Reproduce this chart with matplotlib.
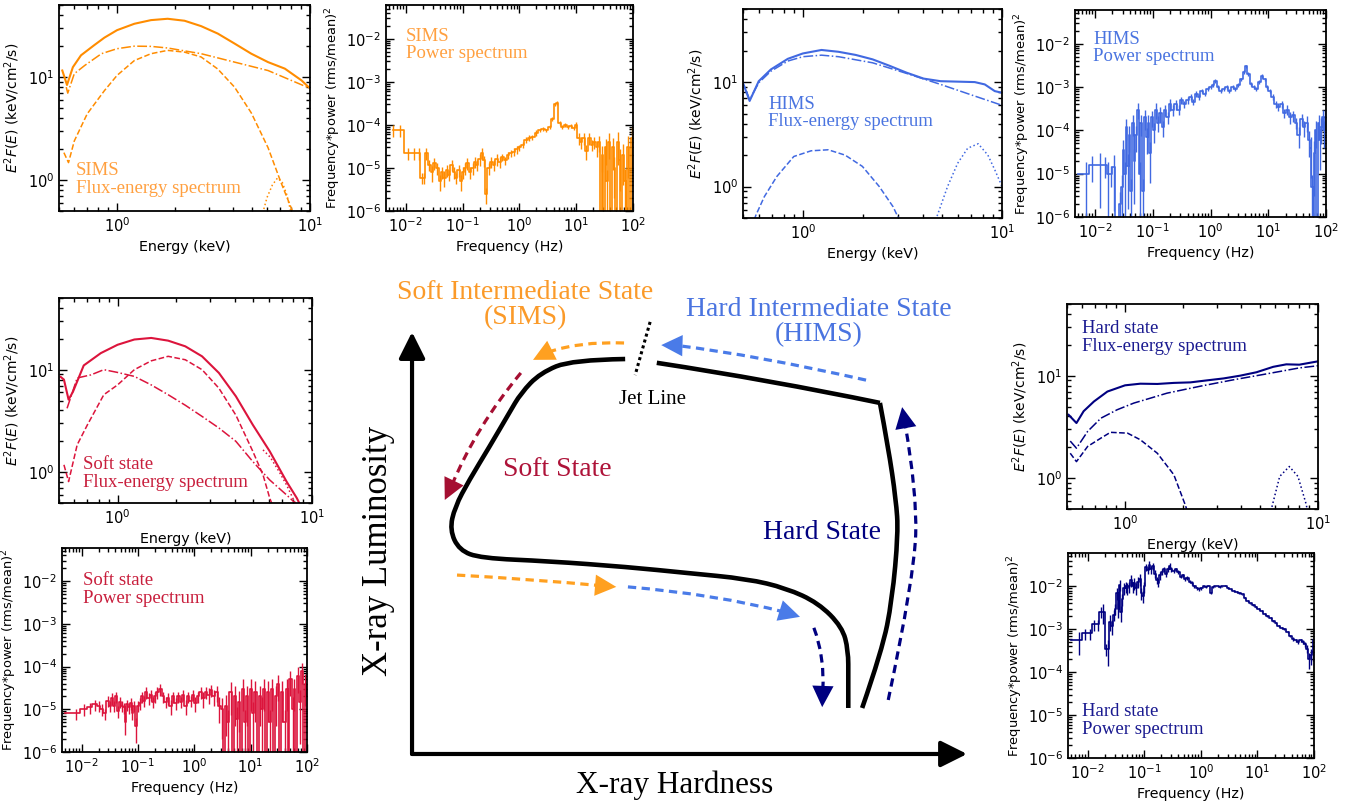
import matplotlib.pyplot as plt
import numpy as np
from matplotlib.path import Path
from matplotlib.patches import PathPatch
from matplotlib.ticker import NullFormatter

# ---- flux-energy spectra (E in keV, E^2 F(E)) ----
sims_total = [(0.52, 11.6), (0.55, 8.4), (0.59, 12.5), (0.65, 16.3), (0.76, 20.4), (0.86, 24.2), (1.0, 28.6),
              (1.23, 33.0), (1.5, 35.8), (1.83, 36.9), (2.24, 35.3), (2.73, 31.3), (3.33, 26.5), (4.07, 21.2),
              (4.97, 16.9), (6.07, 14.0), (7.42, 12.1), (9.06, 9.3), (10.0, 7.8)]
sims_cont = [(0.545, 8.0), (0.555, 7.0), (0.6, 10.8), (0.68, 13.0), (0.83, 16.9), (1.0, 18.9), (1.23, 20.0),
             (1.5, 19.9), (1.83, 19.2), (2.73, 16.9), (4.07, 14.0), (6.07, 11.6), (10.0, 7.8)]
sims_disk = [(0.53, 1.85), (0.56, 1.48), (0.6, 2.4), (0.7, 4.4), (0.86, 7.4), (1.0, 10.4), (1.23, 14.5),
             (1.5, 16.9), (1.83, 18.2), (2.24, 17.5), (2.73, 15.7), (3.33, 12.0), (4.07, 8.0), (4.97, 4.5),
             (6.07, 2.07), (7.1, 0.94), (8.0, 0.54), (8.3, 0.45)]
sims_line = [(5.7, 0.48), (6.0, 0.68), (6.4, 0.9), (6.8, 1.05), (7.2, 0.95), (7.6, 0.72), (8.0, 0.48)]

hims_total = [(0.5, 9.85), (0.54, 6.6), (0.6, 10.2), (0.69, 13.2), (0.84, 16.7), (1.0, 18.8), (1.24, 20.3),
              (1.51, 19.5), (1.84, 18.2), (2.24, 16.5), (2.73, 14.3), (3.32, 12.3), (4.04, 10.8), (4.92, 10.2),
              (5.99, 10.1), (7.3, 10.0), (8.2, 9.5), (9.2, 8.2), (10.0, 7.9)]
hims_cont = [(0.52, 8.2), (0.54, 6.8), (0.6, 9.85), (0.69, 12.7), (0.84, 15.9), (1.0, 17.5), (1.24, 18.1),
             (1.51, 17.5), (2.24, 15.3), (3.32, 12.1), (4.92, 9.5), (7.3, 7.35), (10.0, 6.0)]
hims_disk = [(0.57, 0.48), (0.58, 0.53), (0.64, 0.8), (0.74, 1.25), (0.9, 1.94), (1.1, 2.2), (1.34, 2.25),
             (1.63, 2.0), (1.99, 1.56), (2.42, 1.0), (2.84, 0.64), (3.05, 0.48)]
hims_line = [(4.65, 0.48), (5.33, 1.0), (5.99, 1.67), (6.73, 2.33), (7.6, 2.57), (8.5, 2.0), (9.2, 1.45),
             (9.8, 1.1), (10.0, 1.0)]

soft_total = [(0.51, 8.5), (0.53, 8.0), (0.56, 5.1), (0.59, 6.1), (0.67, 11.0), (0.82, 14.5), (1.0, 17.5),
              (1.22, 19.7), (1.49, 20.4), (1.82, 19.2), (2.23, 16.9), (2.72, 13.5), (3.32, 9.3), (4.06, 5.5),
              (4.96, 2.9), (6.06, 1.6), (7.4, 0.81), (8.35, 0.56), (8.6, 0.5)]
soft_cont = [(0.55, 4.2), (0.62, 8.3), (0.73, 8.9), (0.85, 10.0), (1.0, 9.4), (1.22, 8.6), (1.49, 7.1),
             (1.82, 5.7), (2.23, 4.5), (2.72, 3.5), (3.32, 2.7), (4.06, 2.0), (4.96, 1.27), (6.06, 0.84),
             (7.4, 0.6), (8.2, 0.5)]
soft_disk = [(0.53, 1.18), (0.56, 0.81), (0.62, 1.85), (0.7, 2.9), (0.85, 5.7), (1.0, 7.1), (1.22, 10.0),
             (1.49, 12.2), (1.82, 13.5), (2.23, 12.5), (2.72, 10.0), (3.32, 6.6), (4.06, 3.6), (4.96, 1.6),
             (5.6, 0.94), (6.06, 0.56), (6.2, 0.5)]
soft_line = [(5.6, 1.65), (6.1, 1.4), (6.8, 1.0), (7.4, 0.75), (8.0, 0.55), (8.2, 0.5)]

hard_total = [(0.51, 4.15), (0.56, 3.45), (0.61, 4.5), (0.69, 5.6), (0.81, 7.0), (1.0, 8.05), (1.2, 8.35),
              (1.47, 8.3), (1.79, 8.5), (2.18, 8.6), (2.66, 9.0), (3.24, 9.4), (3.95, 10.0), (4.8, 10.8),
              (5.86, 12.2), (6.85, 12.9), (8.0, 12.8), (10.0, 13.8)]
hard_cont = [(0.52, 2.3), (0.56, 1.96), (0.64, 2.86), (0.75, 3.85), (0.91, 4.65), (1.11, 5.4), (1.36, 6.05),
             (1.65, 6.75), (2.46, 7.9), (3.63, 9.1), (5.4, 10.4), (8.0, 11.9), (10.0, 12.5)]
hard_disk = [(0.52, 1.75), (0.56, 1.45), (0.64, 2.04), (0.75, 2.46), (0.84, 2.8), (1.03, 2.75), (1.2, 2.37),
             (1.47, 1.75), (1.79, 1.08), (2.05, 0.55), (2.1, 0.48)]
hard_line = [(5.7, 0.48), (6.33, 1.04), (7.1, 1.3), (7.87, 1.04), (8.7, 0.55), (8.8, 0.48)]

# ---- power spectra: (frequency Hz, freq*power, relative error) ----
sims_pds = [(0.006, 7.5e-5, .3), (0.008, 7.5e-5, .3), (0.011, 2.2e-5, .3), (0.014, 2.2e-5, .3), (0.017, 2.2e-5, .3),
            (0.019, 6e-6, .3), (0.021, 6e-6, .3), (0.023, 2.2e-5, .3), (0.026, 1.2e-5, .3), (0.029, 8e-6, .4),
            (0.032, 1.3e-5, .3), (0.036, 1e-5, .3), (0.04, 5e-6, .4), (0.044, 8e-6, .3), (0.048, 6e-6, .4),
            (0.053, 9e-6, .3), (0.058, 7e-6, .3), (0.064, 1.2e-5, .3), (0.07, 8e-6, .3), (0.077, 6e-6, .3),
            (0.085, 9e-6, .3), (0.093, 5e-6, .4), (0.1, 8e-6, .3), (0.11, 1e-5, .3), (0.12, 1.3e-5, .3),
            (0.135, 8e-6, .3), (0.15, 1e-5, .3), (0.165, 1.4e-5, .3), (0.18, 1.2e-5, .3), (0.2, 1.6e-5, .3),
            (0.22, 2.2e-5, .3), (0.24, 1.5e-5, .3), (0.26, 2.5e-6, .4), (0.29, 1e-5, .3), (0.32, 1.4e-5, .3),
            (0.36, 1.2e-5, .3), (0.4, 1.6e-5, .3), (0.45, 1.4e-5, .3), (0.5, 1.8e-5, .2), (0.56, 1.5e-5, .2),
            (0.63, 2e-5, .2), (0.7, 2.2e-5, .2), (0.8, 2.4e-5, .2), (0.9, 2.7e-5, .2), (1.0, 3e-5, .15),
            (1.15, 3.5e-5, .15), (1.3, 4.5e-5, .15), (1.5, 5e-5, .15), (1.7, 5.2e-5, .15), (2.0, 6.5e-5, .15),
            (2.3, 7.5e-5, .1), (2.6, 8e-5, .1), (3.0, 7.5e-5, .1), (3.4, 9e-5, .1), (3.8, 1.4e-4, .1),
            (4.2, 3e-4, .1), (4.6, 3.2e-4, .1), (5.1, 1.1e-4, .1), (5.7, 9e-5, .1), (6.4, 1e-4, .1),
            (7.2, 9e-5, .1), (8.0, 9.5e-5, .1), (9.0, 8.5e-5, .1), (10, 1e-4, .15), (11, 5e-5, .3),
            (12, 4e-5, .3), (13.5, 5e-5, .3), (15, 2.5e-5, .4), (17, 5e-5, .3), (19, 3.5e-5, .3),
            (21, 4e-5, .3), (23, 3e-5, .4), (25, 4e-5, .4), (27, 3e-7, .5), (29, 2e-5, .6), (31, 3e-7, .5),
            (33, 3e-5, .6), (35, 5e-6, .8), (38, 4e-5, .6), (41, 3e-7, .5), (44, 3e-5, .7), (47, 1e-5, .8),
            (50, 3e-7, .5), (54, 4e-5, .7), (58, 1.5e-5, .8), (62, 3e-7, .5), (67, 2e-5, .8), (72, 5e-6, .9),
            (77, 3e-7, .5), (83, 3e-5, .8), (89, 3e-7, .5), (95, 5e-5, .8)]

hims_pds = [(0.005, 1e-5, .0), (0.007, 1e-5, .9), (0.009, 1.6e-5, .6), (0.012, 1.6e-5, .9), (0.015, 1.6e-5, .5),
            (0.017, 1e-5, .9), (0.019, 1e-5, .5), (0.021, 1.4e-5, .9), (0.024, 3e-7, .5), (0.027, 2e-6, .9),
            (0.029, 5e-6, .9), (0.031, 3.5e-5, .7), (0.033, 1e-5, .9), (0.035, 1.2e-4, .5), (0.037, 1.5e-5, .9),
            (0.039, 8e-5, .6), (0.042, 4e-6, .9), (0.045, 1.5e-4, .5), (0.048, 2e-5, .9), (0.051, 8e-5, .6),
            (0.055, 3e-4, .4), (0.059, 1e-5, .9), (0.063, 1.5e-4, .5), (0.068, 4e-6, .9), (0.073, 2e-4, .5),
            (0.078, 7e-5, .6), (0.084, 1.5e-4, .5), (0.09, 3e-5, .8), (0.097, 2e-4, .4), (0.105, 1e-4, .5),
            (0.115, 3e-4, .4), (0.125, 1.5e-4, .4), (0.135, 2.5e-4, .4), (0.15, 1.2e-4, .4), (0.165, 3e-4, .3),
            (0.18, 2e-4, .3), (0.2, 4e-4, .3), (0.22, 3e-4, .3), (0.25, 4e-4, .25), (0.28, 3e-4, .25),
            (0.31, 5e-4, .2), (0.35, 4e-4, .2), (0.4, 5e-4, .2), (0.45, 6e-4, .15), (0.5, 4.5e-4, .15),
            (0.56, 7e-4, .15), (0.63, 6e-4, .15), (0.7, 8e-4, .1), (0.8, 7e-4, .1), (0.9, 9e-4, .1),
            (1.0, 1e-3, .1), (1.1, 1.1e-3, .1), (1.2, 1.4e-3, .1), (1.35, 1e-3, .1), (1.5, 8e-4, .1),
            (1.7, 9e-4, .1), (1.9, 1e-3, .1), (2.1, 8e-4, .1), (2.4, 1e-3, .1), (2.7, 9e-4, .1),
            (3.0, 1.1e-3, .1), (3.4, 1.5e-3, .1), (3.8, 2.2e-3, .1), (4.1, 3e-3, .1), (4.5, 2e-3, .1),
            (5.0, 1.2e-3, .1), (5.6, 1e-3, .1), (6.2, 9e-4, .1), (7.0, 1.3e-3, .1), (7.8, 1.8e-3, .1),
            (8.6, 1.5e-3, .1), (9.5, 1e-3, .1), (10.5, 8e-4, .1), (12, 6e-4, .15), (13.5, 4e-4, .2),
            (15, 3.5e-4, .2), (17, 4e-4, .2), (19, 2.5e-4, .25), (21, 3e-4, .25), (24, 2e-4, .3),
            (27, 2.2e-4, .3), (30, 1.5e-4, .3), (34, 8e-5, .5), (38, 1.8e-4, .3), (42, 1.2e-4, .4),
            (46, 1.5e-4, .4), (50, 6e-5, .6), (54, 4e-5, .8), (57, 5e-6, .9), (60, 3e-7, .5),
            (63, 3e-5, .9), (66, 1e-4, .6), (70, 3e-7, .5), (74, 1.5e-4, .5), (78, 6e-5, .8),
            (82, 1.2e-4, .6), (87, 2e-4, .5), (92, 1e-4, .6), (97, 2e-4, .5)]

soft_pds = [(0.005, 8e-6, .0), (0.008, 8e-6, .3), (0.011, 1e-5, .3), (0.014, 1.1e-5, .3), (0.017, 1.3e-5, .3),
            (0.02, 1.2e-5, .3), (0.023, 1e-5, .3), (0.026, 8e-6, .3), (0.029, 1.6e-5, .3), (0.032, 1.2e-5, .3),
            (0.035, 1.8e-5, .3), (0.038, 1.2e-5, .3), (0.041, 2e-5, .3), (0.044, 9e-6, .3), (0.048, 1.5e-5, .3),
            (0.052, 1.2e-5, .3), (0.056, 1.1e-5, .3), (0.06, 5e-6, .5), (0.065, 1.3e-5, .3), (0.07, 1.1e-5, .3),
            (0.075, 1.4e-5, .3), (0.08, 8e-6, .3), (0.086, 1.2e-5, .3), (0.092, 4e-6, .6), (0.1, 1.2e-5, .3),
            (0.11, 1.4e-5, .3), (0.12, 2e-5, .3), (0.13, 1.6e-5, .3), (0.14, 2.5e-5, .3), (0.155, 1.8e-5, .3),
            (0.17, 2.2e-5, .3), (0.185, 1.5e-5, .3), (0.2, 2e-5, .3), (0.22, 2.5e-5, .3), (0.25, 3e-5, .3),
            (0.28, 2e-5, .3), (0.31, 1.5e-5, .3), (0.34, 1.8e-5, .3), (0.38, 1.2e-5, .4), (0.42, 2e-5, .3),
            (0.47, 1.4e-5, .3), (0.52, 2e-5, .3), (0.58, 1.5e-5, .3), (0.64, 2.2e-5, .3), (0.7, 1.2e-5, .4),
            (0.78, 2e-5, .3), (0.86, 1.6e-5, .3), (0.95, 2.2e-5, .3), (1.05, 1.4e-5, .4), (1.15, 2e-5, .3),
            (1.3, 2.5e-5, .3), (1.45, 1.8e-5, .4), (1.6, 2.5e-5, .3), (1.8, 2.2e-5, .4), (2.0, 2.8e-5, .3),
            (2.2, 2e-5, .4), (2.5, 2.5e-5, .4), (2.8, 1.2e-5, .6), (3.1, 1e-5, .8), (3.4, 3e-7, .5),
            (3.7, 1.2e-5, .8), (4.0, 5e-6, .9), (4.4, 2.5e-5, .7), (4.8, 3e-7, .5), (5.2, 2e-5, .8),
            (5.7, 6e-6, .9), (6.2, 1.5e-5, .8), (6.8, 3e-7, .5), (7.4, 3e-5, .7), (8.0, 5e-6, .9),
            (8.7, 2e-5, .8), (9.5, 3e-7, .5), (10.3, 3e-5, .7), (11.2, 8e-6, .9), (12.2, 2.5e-5, .8),
            (13.3, 3e-7, .5), (14.5, 2e-5, .8), (15.8, 1e-5, .9), (17.2, 3e-5, .7), (18.7, 3e-7, .5),
            (20.3, 2.5e-5, .8), (22, 5e-6, .9), (24, 3e-5, .7), (26, 3e-7, .5), (28.5, 2e-5, .8),
            (31, 4e-5, .6), (33.5, 3e-7, .5), (36.5, 2.5e-5, .8), (40, 5e-6, .9), (43.5, 3e-5, .7),
            (47, 3e-7, .5), (51, 5e-5, .6), (55.5, 1e-5, .9), (60, 3e-5, .7), (65, 3e-7, .5),
            (70.5, 6e-5, .6), (76, 1.5e-5, .9), (82, 8e-5, .5), (88, 3e-7, .5), (94, 4e-5, .7), (99, 2e-5, .8)]

hard_pds = [(0.005, 5.5e-4, .0), (0.007, 5.5e-4, .55), (0.009, 8e-4, .3), (0.011, 8e-4, .3), (0.013, 1.3e-3, .3),
            (0.015, 1.3e-3, .3), (0.017, 2.6e-3, .3), (0.019, 2.6e-3, .5), (0.021, 3.5e-4, .3), (0.023, 3.5e-4, .6),
            (0.025, 1.5e-3, .4), (0.027, 1.2e-3, .4), (0.029, 2.2e-3, .3), (0.031, 3e-3, .3), (0.033, 7e-3, .3),
            (0.035, 3e-3, .4), (0.037, 1.1e-2, .3), (0.039, 2.5e-3, .4), (0.041, 5e-3, .3), (0.044, 9e-3, .3),
            (0.047, 1e-2, .3), (0.05, 9e-3, .3), (0.054, 1e-2, .3), (0.058, 1.4e-2, .3), (0.062, 1e-2, .3),
            (0.067, 1.2e-2, .3), (0.072, 9e-3, .3), (0.077, 1.3e-2, .3), (0.083, 1.5e-2, .3), (0.089, 7e-3, .3),
            (0.095, 6e-3, .3), (0.1, 1e-2, .3), (0.107, 2.8e-2, .2), (0.115, 2.4e-2, .2), (0.123, 3.2e-2, .2),
            (0.132, 2.5e-2, .2), (0.142, 3e-2, .2), (0.153, 2e-2, .2), (0.165, 1.4e-2, .2), (0.178, 1.2e-2, .2),
            (0.19, 1.8e-2, .2), (0.205, 2.2e-2, .15), (0.22, 2.5e-2, .15), (0.24, 2e-2, .15), (0.26, 2.5e-2, .15),
            (0.28, 3e-2, .15), (0.3, 2.5e-2, .15), (0.33, 2.3e-2, .1), (0.36, 2.5e-2, .1), (0.4, 2.2e-2, .1),
            (0.44, 1.7e-2, .1), (0.48, 1.8e-2, .1), (0.53, 1.5e-2, .1), (0.58, 1.6e-2, .1), (0.64, 1.3e-2, .1),
            (0.7, 1.2e-2, .1), (0.77, 1e-2, .1), (0.85, 9e-3, .1), (0.93, 8.5e-3, .1), (1.02, 9e-3, .1),
            (1.12, 1e-2, .05), (1.23, 9.5e-3, .05), (1.35, 1.05e-2, .05), (1.5, 7e-3, .05), (1.65, 9.5e-3, .05),
            (1.8, 1e-2, .05), (2.0, 1e-2, .05), (2.2, 9.5e-3, .05), (2.4, 1e-2, .05), (2.7, 1.05e-2, .05),
            (3.0, 9e-3, .05), (3.4, 8.5e-3, .05), (3.8, 8e-3, .05), (4.3, 7.5e-3, .05), (4.8, 7e-3, .05),
            (5.4, 6.5e-3, .05), (6.0, 5.5e-3, .05), (6.7, 4.5e-3, .05), (7.5, 4e-3, .05), (8.4, 3.7e-3, .05),
            (9.4, 3.3e-3, .05), (10.5, 3e-3, .05), (12, 2.7e-3, .05), (13.5, 2.3e-3, .05), (15, 2e-3, .05),
            (17, 1.8e-3, .05), (19, 1.6e-3, .05), (21, 1.4e-3, .05), (24, 1.2e-3, .05), (27, 1.1e-3, .05),
            (30, 1e-3, .05), (34, 8.5e-4, .05), (38, 7e-4, .05), (42, 6e-4, .1), (47, 5.5e-4, .1),
            (52, 5e-4, .1), (58, 5.5e-4, .1), (64, 5e-4, .1), (70, 4.5e-4, .15), (76, 3.5e-4, .2),
            (82, 2e-4, .4), (88, 2.5e-4, .4), (94, 3e-4, .4), (99, 5.5e-4, .3)]

# ---- q-track schematic, in (hardness, luminosity) units of the central panel ----
track_soft = [(0.384, 0.936), (0.288, 0.934), (0.231, 0.903), (0.196, 0.855), (0.175, 0.808), (0.139, 0.727),
              (0.103, 0.649), (0.077, 0.585), (0.068, 0.531), (0.085, 0.483), (0.124, 0.464), (0.245, 0.457),
              (0.389, 0.443), (0.495, 0.429), (0.604, 0.415), (0.674, 0.393), (0.732, 0.358), (0.775, 0.301),
              (0.786, 0.246), (0.786, 0.180), (0.786, 0.109)]
track_top = [(0.441, 0.927), (0.645, 0.886), (0.843, 0.832)]
track_hard = [(0.843, 0.832), (0.858, 0.727), (0.872, 0.602), (0.876, 0.524), (0.865, 0.365),
              (0.847, 0.246), (0.811, 0.109)]
jet_line = [(0.429, 1.024), (0.402, 0.898)]

arrow_sims_top = [(0.382, 0.974), (0.300, 0.978), (0.245, 0.952), (0.218, 0.934)]
arrow_hims_top = [(0.818, 0.886), (0.620, 0.945), (0.478, 0.968), (0.449, 0.969)]
arrow_soft = [(0.196, 0.903), (0.115, 0.775), (0.0715, 0.636), (0.059, 0.602)]
arrow_hard_up = [(0.858, 0.128), (0.905, 0.420), (0.910, 0.620), (0.888, 0.785), (0.883, 0.822)]
arrow_sims_bot = [(0.081, 0.424), (0.220, 0.414), (0.339, 0.399), (0.368, 0.396)]
arrow_hims_bot = [(0.389, 0.396), (0.550, 0.378), (0.672, 0.336), (0.699, 0.325)]
arrow_hard_down = [(0.724, 0.299), (0.744, 0.230), (0.740, 0.149), (0.739, 0.111)]

C_SIMS, T_SIMS = '#ff8c00', '#ffa040'
C_HIMS, T_HIMS = '#4169e1', '#4a74e0'
C_SOFT, T_SOFT = '#dc143c', '#c81e3c'
C_HARD, T_HARD = '#000080', '#1a1a90'
SERIF = 'Liberation Serif'

plt.rcParams['font.family'] = 'DejaVu Sans'
plt.rcParams['mathtext.fontset'] = 'dejavusans'
fig = plt.figure(figsize=(13.63, 8.09), dpi=100)


def style(ax):
    ax.tick_params(which='both', direction='in', top=True, right=True, labelsize=10.5, width=1.0)
    ax.tick_params(which='major', length=5.5)
    ax.tick_params(which='minor', length=3)
    for s in ax.spines.values():
        s.set_linewidth(1.3)


def flux_panel(rect, comps, color, tcolor, label, tx, ty, va):
    ax = fig.add_axes(rect)
    tot, cont, disk, line = comps
    ax.plot(*zip(*tot), color=color, lw=1.5)
    ax.plot(*zip(*cont), color=color, lw=1.1, ls='-.')
    ax.plot(*zip(*disk), color=color, lw=1.1, ls='--')
    ax.plot(*zip(*line), color=color, lw=1.1, ls=':')
    ax.set_xscale('log')
    ax.set_yscale('log')
    ax.set_xlim(0.5, 10)
    ax.set_ylim(0.5, 50)
    ax.xaxis.set_minor_formatter(NullFormatter())
    ax.yaxis.set_minor_formatter(NullFormatter())
    ax.set_xlabel('Energy (keV)', fontsize=10.3)
    ax.set_ylabel(r'$E^2F(E)$ (keV/cm$^2$/s)', fontsize=10)
    ax.text(tx, ty, label, transform=ax.transAxes, color=tcolor, family=SERIF, fontsize=13.5,
            va=va, ha='left', linespacing=1.05)
    style(ax)
    return ax


def power_panel(rect, pds, color, tcolor, label, tx, ty, va):
    ax = fig.add_axes(rect)
    f, p, e = (np.array(v) for v in zip(*pds))
    ax.errorbar(f, p, yerr=p * e, color=color, lw=1.2, elinewidth=1.0, drawstyle='steps-mid')
    ax.set_xscale('log')
    ax.set_yscale('log')
    ax.set_xlim(0.0045, 100)
    ax.set_ylim(1e-6, 0.06)
    ax.xaxis.set_minor_formatter(NullFormatter())
    ax.yaxis.set_minor_formatter(NullFormatter())
    ax.set_xlabel('Frequency (Hz)', fontsize=10.3)
    ax.set_ylabel(r'Frequency*power (rms/mean)$^2$', fontsize=9.4, labelpad=2)
    ax.text(tx, ty, label, transform=ax.transAxes, color=tcolor, family=SERIF, fontsize=13.5,
            va=va, ha='left', linespacing=1.05)
    style(ax)
    return ax


flux_panel([0.0433, 0.739, 0.184, 0.2546], (sims_total, sims_cont, sims_disk, sims_line),
           C_SIMS, T_SIMS, 'SIMS\nFlux-energy spectrum', 0.068, 0.07, 'bottom')
power_panel([0.2832, 0.739, 0.1812, 0.2546], sims_pds, C_SIMS, T_SIMS,
            'SIMS\nPower spectrum', 0.08, 0.89, 'top')
flux_panel([0.5451, 0.7305, 0.19, 0.2583], (hims_total, hims_cont, hims_disk, hims_line),
           C_HIMS, T_HIMS, 'HIMS\nFlux-energy spectrum', 0.097, 0.585, 'top')
power_panel([0.7887, 0.7318, 0.1842, 0.2559], hims_pds, C_HIMS, T_HIMS,
            'HIMS\nPower spectrum', 0.072, 0.90, 'top')
flux_panel([0.0433, 0.3782, 0.1856, 0.2534], (soft_total, soft_cont, soft_disk, soft_line),
           C_SOFT, T_SOFT, 'Soft state\nFlux-energy spectrum', 0.095, 0.06, 'bottom')
power_panel([0.0455, 0.0705, 0.1797, 0.2522], soft_pds, C_SOFT, T_SOFT,
            'Soft state\nPower spectrum', 0.086, 0.88, 'top')
flux_panel([0.7828, 0.3708, 0.1842, 0.2534], (hard_total, hard_cont, hard_disk, hard_line),
           C_HARD, T_HARD, 'Hard state\nFlux-energy spectrum', 0.06, 0.92, 'top')
power_panel([0.7836, 0.063, 0.1805, 0.2534], hard_pds, C_HARD, T_HARD,
            'Hard state\nPower spectrum', 0.057, 0.10, 'bottom')


# ---- central hardness-intensity diagram ----
def smooth_path(pts):
    pts = [np.asarray(q, float) for q in pts]
    if len(pts) == 2:
        return Path(pts, [Path.MOVETO, Path.LINETO])
    verts, codes = [pts[0]], [Path.MOVETO]
    for i in range(1, len(pts) - 1):
        end = (pts[i] + pts[i + 1]) / 2 if i < len(pts) - 2 else pts[i + 1]
        verts += [pts[i], end]
        codes += [Path.CURVE3, Path.CURVE3]
    return Path(verts, codes)


def dashed_arrow(ax, pts, color):
    ax.add_patch(PathPatch(smooth_path(pts[:-1]), fill=False, ec=color, lw=2.3,
                           ls=(0, (2.6, 1.7)), capstyle='butt', clip_on=False))
    ax.annotate('', xy=pts[-1], xytext=pts[-2],
                arrowprops=dict(arrowstyle='-|>,head_length=0.9,head_width=0.45', color=color, lw=0,
                                mutation_scale=17, shrinkA=0, shrinkB=0), annotation_clip=False)


axc = fig.add_axes([0.3023, 0.068, 0.4072, 0.5216])
axc.set_xlim(0, 1)
axc.set_ylim(0, 1)
axc.axis('off')

for axis_end in [(1.0, 0.0), (0.0, 1.0)]:
    axc.annotate('', xy=axis_end, xytext=(0, 0),
                 arrowprops=dict(arrowstyle='-|>,head_length=1.0,head_width=0.5', color='black', lw=3,
                                 mutation_scale=16, shrinkA=0, shrinkB=0), annotation_clip=False)

for track in (track_soft, track_top, track_hard):
    axc.add_patch(PathPatch(smooth_path(track), fill=False, ec='black', lw=3.3,
                            capstyle='butt', joinstyle='round', clip_on=False))
axc.plot(*zip(*jet_line), color='black', lw=2.2, ls=(0, (1, 1)), clip_on=False)

dashed_arrow(axc, arrow_sims_top, '#ffa020')
dashed_arrow(axc, arrow_hims_top, '#4a7be8')
dashed_arrow(axc, arrow_soft, '#a50f32')
dashed_arrow(axc, arrow_hard_up, C_HARD)
dashed_arrow(axc, arrow_sims_bot, '#ffa020')
dashed_arrow(axc, arrow_hims_bot, '#4a7be8')
dashed_arrow(axc, arrow_hard_down, C_HARD)

axc.text(0.204, 1.064, 'Soft Intermediate State\n(SIMS)', color='#fb9a29', family=SERIF, fontsize=20,
         ha='center', va='center', linespacing=1.0)
axc.text(0.733, 1.024, 'Hard Intermediate State\n(HIMS)', color='#4a74e0', family=SERIF, fontsize=20,
         ha='center', va='center', linespacing=1.0)
axc.text(0.434, 0.839, 'Jet Line', color='black', family=SERIF, fontsize=15, ha='center', va='center')
axc.text(0.261, 0.673, 'Soft State', color='#ae1339', family=SERIF, fontsize=20, ha='center', va='center')
axc.text(0.739, 0.524, 'Hard State', color=C_HARD, family=SERIF, fontsize=20, ha='center', va='center')
axc.text(0.474, -0.073, 'X-ray Hardness', color='black', family=SERIF, fontsize=22.5, ha='center', va='center')
axc.text(-0.061, 0.481, 'X-ray Luminosity', color='black', family=SERIF, fontsize=25, ha='center',
         va='center', rotation=90)

fig.savefig('out.png', dpi=100)
